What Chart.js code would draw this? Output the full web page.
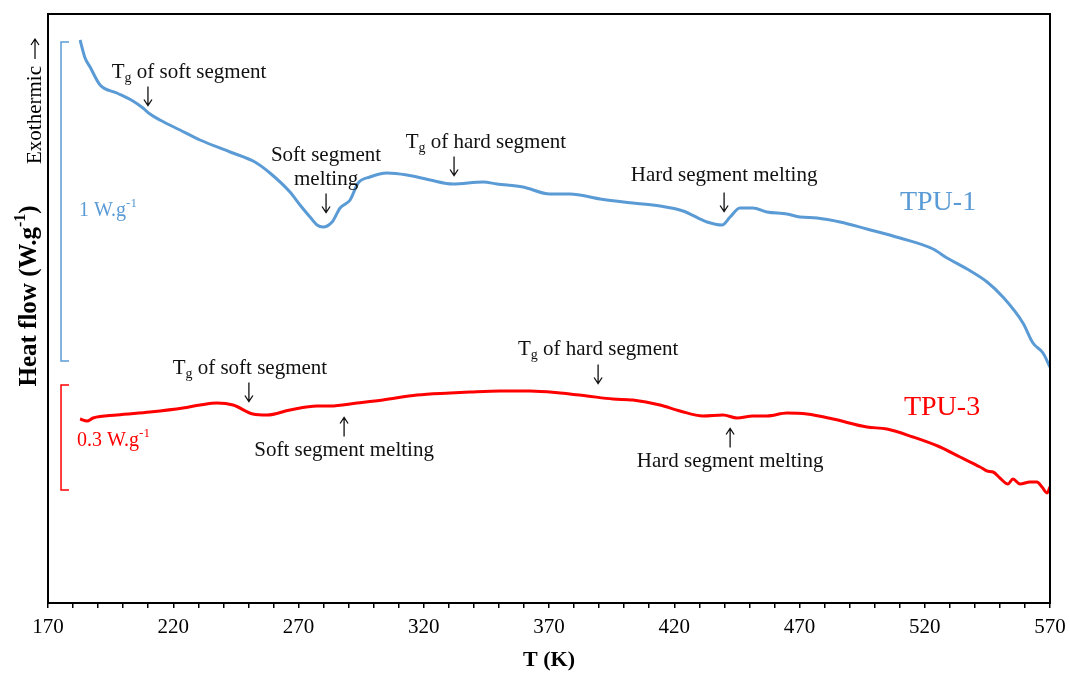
<!DOCTYPE html>
<html>
<head>
<meta charset="utf-8">
<script src="https://cdn.jsdelivr.net/npm/chart.js@4/dist/chart.umd.min.js"></script>
<style>
  html, body { margin: 0; padding: 0; background: #fff; }
  #wrap { width: 1070px; height: 676px; }
</style>
</head>
<body>
<div id="wrap"><canvas id="dscChart"></canvas></div>
<script>
// TPU-1 (blue) - temperature (K) and heat flow (arbitrary offset units)
const temps1 = [182.8, 184.8, 186.8, 190.8, 197.5, 203.9, 207.9, 210.7, 214.7, 222.7, 230.7, 242.7,
  252.6, 258.6, 266.6, 270.6, 274.6, 277.4, 279.8, 283.4, 286.6, 290.6, 293.8, 298.5, 305.3, 313.3,
  322.5, 331.7, 343.7, 349.2, 359.6, 370.4, 378.4, 390.4, 403.5, 414.3, 423.5, 433.1, 439.1, 442.3,
  446.2, 451.4, 457.0, 465.0, 470.2, 477.0, 486.2, 496.9, 510.1, 523.3, 528.9, 536.9, 544.9, 551.2,
  559.2, 563.2, 567.2, 570.0];
const heat1 = [563, 545, 536, 518, 510, 502, 495, 489, 483, 473, 463, 451,
  441, 430, 411, 398, 386, 378, 376, 381, 395, 403, 420, 426, 430, 428,
  423, 419, 421, 419, 416, 409, 409, 404, 400, 397, 392, 381, 378, 386,
  395, 395, 391, 389, 386, 385, 381, 374, 365, 354, 345, 334, 321, 306,
  280, 260, 250, 236];

// TPU-3 (red)
const temps3 = [182.8, 185.6, 188.0, 197.5, 210.7, 223.9, 230.7, 237.5, 243.9, 251.8, 257.4, 266.6,
  277.4, 282.6, 293.4, 303.7, 317.3, 330.5, 338.5, 350.4, 362.4, 374.4, 385.2, 395.5, 403.5, 414.3,
  422.3, 431.5, 439.5, 445.1, 451.4, 457.0, 465.0, 473.0, 483.4, 496.9, 504.9, 515.3, 526.1, 534.1,
  542.1, 544.9, 547.3, 550.0, 553.2, 555.2, 558.0, 562.0, 564.8, 566.8, 568.8, 570.0];
const heat3 = [184, 182, 185, 188, 191, 195, 198, 200, 198, 189, 188, 193,
  197, 197, 200, 203, 208, 210, 211, 212, 212, 210, 207, 204, 203, 198,
  192, 187, 188, 185, 187, 187, 190, 189, 184, 176, 174, 166, 156, 146,
  136, 132, 131, 125, 119, 124, 119, 121, 121, 116, 110, 116];

// axis
const xMin = 170, xMax = 570, xMajor = 50, xMinor = 10;

const blue = '#5b9bd5';
const red = '#ff0000';
const serif = "'Liberation Serif', 'Times New Roman', serif";

// annotation labels (x in K, y in heat-flow units)
const notes = [
  { parts: ['T', { sub: 'g' }, ' of soft segment'], x: 226.3, y: 531 },
  { parts: ['Soft segment'], x: 281, y: 448 },
  { parts: ['melting'], x: 281, y: 424 },
  { parts: ['T', { sub: 'g' }, ' of hard segment'], x: 344.8, y: 461 },
  { parts: ['Hard segment melting'], x: 439.9, y: 428 },
  { parts: ['T', { sub: 'g' }, ' of soft segment'], x: 250.6, y: 235 },
  { parts: ['Soft segment melting'], x: 288.2, y: 153 },
  { parts: ['T', { sub: 'g' }, ' of hard segment'], x: 389.6, y: 254 },
  { parts: ['Hard segment melting'], x: 442.3, y: 142 }
];
// arrows: dir 1 = down, -1 = up
const arrows = [
  { x: 209.9, y: 507, dir: 1 },
  { x: 281, y: 400, dir: 1 },
  { x: 332.1, y: 437, dir: 1 },
  { x: 439.9, y: 401, dir: 1 },
  { x: 250.2, y: 211, dir: 1 },
  { x: 288.2, y: 176, dir: -1 },
  { x: 389.6, y: 229, dir: 1 },
  { x: 442.3, y: 165, dir: -1 }
];

function pairs(xs, ys) {
  return xs.map((x, i) => ({ x: x, y: ys[i] }));
}

// text with sub/superscripts
function drawRich(ctx, parts, x, y, size, weight, align) {
  const base = weight + ' ' + size + 'px ' + serif;
  const small = weight + ' ' + Math.round(size * 0.65) + 'px ' + serif;
  let total = 0;
  parts.forEach(p => {
    ctx.font = (typeof p === 'string') ? base : small;
    total += ctx.measureText(typeof p === 'string' ? p : (p.sub || p.sup)).width;
  });
  let cx = align === 'left' ? x : x - total / 2;
  ctx.textAlign = 'left';
  ctx.textBaseline = 'middle';
  parts.forEach(p => {
    if (typeof p === 'string') {
      ctx.font = base;
      ctx.fillText(p, cx, y);
      cx += ctx.measureText(p).width;
    } else {
      ctx.font = small;
      const t = p.sub || p.sup;
      const dy = p.sub ? size * 0.3 : -size * 0.35;
      ctx.fillText(t, cx, y + dy);
      cx += ctx.measureText(t).width;
    }
  });
  return total;
}

function drawArrow(ctx, x, y, dir, len) {
  const h = len / 2;
  ctx.beginPath();
  ctx.moveTo(x, y - h * dir);
  ctx.lineTo(x, y + h * dir);
  ctx.moveTo(x - 4, y + (h - 6) * dir);
  ctx.lineTo(x, y + h * dir);
  ctx.lineTo(x + 4, y + (h - 6) * dir);
  ctx.stroke();
}

const decorPlugin = {
  id: 'decor',
  afterDatasetsDraw(chart) {
    const ctx = chart.ctx;
    const xs = chart.scales.x, ys = chart.scales.y;
    const a = chart.chartArea;
    ctx.save();

    // frame
    ctx.strokeStyle = '#000';
    ctx.lineWidth = 2;
    ctx.strokeRect(a.left, a.top, a.right - a.left, a.bottom - a.top);

    // scale bars
    const bars = [
      { c: blue, x: 175.2, y0: 561, y1: 242, label: ['1 W.g', { sup: '-1' }], lx: 182.4, ly: 392 },
      { c: red, x: 175.2, y0: 218, y1: 113, label: ['0.3 W.g', { sup: '-1' }], lx: 181.6, ly: 162 }
    ];
    bars.forEach(b => {
      const px = xs.getPixelForValue(b.x);
      const p0 = ys.getPixelForValue(b.y0), p1 = ys.getPixelForValue(b.y1);
      ctx.strokeStyle = b.c;
      ctx.lineWidth = 1.5;
      ctx.beginPath();
      ctx.moveTo(px + 8, p0);
      ctx.lineTo(px, p0);
      ctx.lineTo(px, p1);
      ctx.lineTo(px + 8, p1);
      ctx.stroke();
      ctx.fillStyle = b.c;
      drawRich(ctx, b.label, xs.getPixelForValue(b.lx), ys.getPixelForValue(b.ly), 20, 'normal', 'left');
    });

    // notes
    ctx.fillStyle = '#111';
    notes.forEach(n => {
      drawRich(ctx, n.parts, xs.getPixelForValue(n.x), ys.getPixelForValue(n.y), 21, 'normal', 'center');
    });
    ctx.strokeStyle = '#111';
    ctx.lineWidth = 1.3;
    arrows.forEach(r => {
      drawArrow(ctx, xs.getPixelForValue(r.x), ys.getPixelForValue(r.y), r.dir, 19);
    });

    // series labels
    ctx.fillStyle = blue;
    drawRich(ctx, ['TPU-1'], xs.getPixelForValue(525.3), ys.getPixelForValue(400), 28, 'normal', 'center');
    ctx.fillStyle = red;
    drawRich(ctx, ['TPU-3'], xs.getPixelForValue(526.9), ys.getPixelForValue(195), 28, 'normal', 'center');

    // y-axis titles
    ctx.fillStyle = '#000';
    ctx.strokeStyle = '#000';
    ctx.save();
    ctx.translate(35, 103);
    ctx.rotate(-Math.PI / 2);
    const w = drawRich(ctx, ['Exothermic'], -12, 0, 21, 'normal', 'center');
    // long arrow after the word
    const ax0 = -12 + w / 2 + 7, ax1 = ax0 + 20;
    ctx.lineWidth = 1.2;
    ctx.beginPath();
    ctx.moveTo(ax0, 0);
    ctx.lineTo(ax1, 0);
    ctx.moveTo(ax1 - 6, -4);
    ctx.lineTo(ax1, 0);
    ctx.lineTo(ax1 - 6, 4);
    ctx.stroke();
    ctx.restore();
    ctx.save();
    ctx.translate(30, 296);
    ctx.rotate(-Math.PI / 2);
    drawRich(ctx, ['Heat flow (W.g', { sup: '-1' }, ')'], 0, 0, 25, 'bold', 'center');
    ctx.restore();

    ctx.restore();
  }
};

new Chart(document.getElementById('dscChart'), {
  type: 'line',
  data: {
    datasets: [
      {
        label: 'TPU-1',
        data: pairs(temps1, heat1),
        borderColor: blue,
        borderWidth: 3,
        pointRadius: 0,
        cubicInterpolationMode: 'monotone',
        fill: false
      },
      {
        label: 'TPU-3',
        data: pairs(temps3, heat3),
        borderColor: red,
        borderWidth: 3,
        pointRadius: 0,
        cubicInterpolationMode: 'monotone',
        fill: false
      }
    ]
  },
  options: {
    responsive: true,
    maintainAspectRatio: false,
    animation: false,
    layout: { padding: { left: 48, right: 20, top: 14, bottom: 0 } },
    plugins: {
      legend: { display: false },
      tooltip: { enabled: false }
    },
    scales: {
      x: {
        type: 'linear',
        min: xMin,
        max: xMax,
        afterFit: s => {
          s.height = 73;
          s.paddingLeft = 0;
          s.paddingRight = 0;
        },
        border: { display: true, color: '#000', width: 2 },
        grid: {
          display: true,
          drawOnChartArea: false,
          drawTicks: true,
          tickLength: 5,
          color: '#000',
          lineWidth: 1.5
        },
        ticks: {
          stepSize: xMinor,
          autoSkip: false,
          maxRotation: 0,
          padding: 7,
          color: '#000',
          font: { family: serif, size: 21 },
          callback: v => ((v - xMin) % xMajor === 0 ? v : '')
        },
        title: {
          display: true,
          text: 'T (K)',
          color: '#000',
          font: { family: serif, size: 22, weight: 'bold' },
          padding: { top: 0, bottom: 2 }
        }
      },
      y: {
        display: false,
        min: 0,
        max: 589
      }
    }
  },
  plugins: [decorPlugin]
});
</script>
</body>
</html>
